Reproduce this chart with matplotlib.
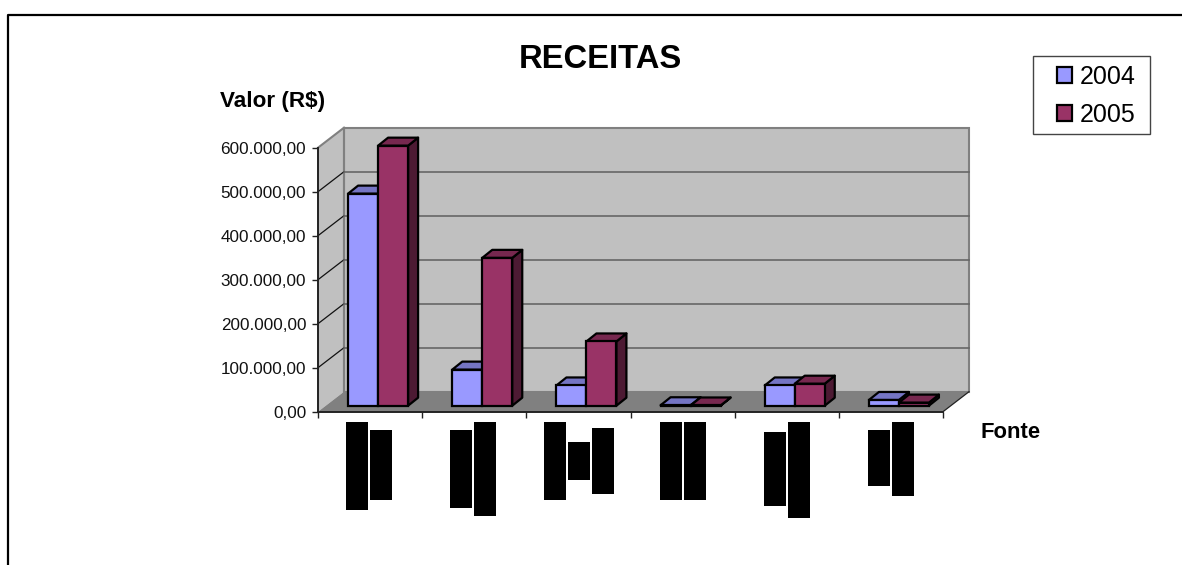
import matplotlib
matplotlib.use("Agg")
import matplotlib.pyplot as plt
from matplotlib.patches import Patch, Polygon, Rectangle

plt.rcParams['font.family'] = ['Liberation Sans', 'DejaVu Sans']

# DATA ---------------------------------------------------------------------
years = ['2004', '2005']
values_2004 = [482000, 82000, 46000, 1000, 46000, 13000]
values_2005 = [591000, 336000, 146000, 500, 50000, 7000]
y_ticks = [0, 100000, 200000, 300000, 400000, 500000, 600000]

# the category names are blacked out in the source, these are the blocks (top, bottom in px)
hidden_labels = [
    [(422, 510), (430, 500)],
    [(430, 508), (422, 516)],
    [(422, 500), (442, 480), (428, 494)],
    [(422, 500), (422, 500)],
    [(432, 506), (422, 518)],
    [(430, 486), (422, 496)],
]
hidden_left = [346, 450, 544, 660, 764, 868]

# LAYOUT -------------------------------------------------------------------
W, H = 1182, 565
LEFT, RIGHT, BASE, TOP = 318, 943, 411.7, 147.7
x_unit = (RIGHT - LEFT) / 6          # px for one category
y_unit = (BASE - TOP) / 600000       # px for one R$


def dx(px):
    return px / x_unit


def dy(px):
    return px / y_unit


fig = plt.figure(figsize=(W / 100, H / 100), dpi=100)
ax = fig.add_axes([LEFT / W, 1 - BASE / H, (RIGHT - LEFT) / W, (BASE - TOP) / H])
ax.set_xlim(0, 6)
ax.set_ylim(0, 600000)
ax.patch.set_visible(False)
for s in ['top', 'right']:
    ax.spines[s].set_visible(False)
for s in ['left', 'bottom']:
    ax.spines[s].set_linewidth(1.4)
    ax.spines[s].set_color('#222222')
    ax.spines[s].set_zorder(6)


def poly(pts, **kw):
    ax.add_patch(Polygon(pts, closed=True, clip_on=False, **kw))


# Walls and floor
wall_x, wall_y = dx(26), dy(20)
poly([(0, 0), (wall_x, wall_y), (wall_x, 600000 + wall_y), (0, 600000)],
     facecolor='#C0C0C0', edgecolor='none', zorder=1)
poly([(wall_x, wall_y), (6 + wall_x, wall_y), (6 + wall_x, 600000 + wall_y), (wall_x, 600000 + wall_y)],
     facecolor='#C0C0C0', edgecolor='#808080', linewidth=1.5, zorder=1)
poly([(0, 0), (6, 0), (6 + wall_x, wall_y), (wall_x, wall_y)],
     facecolor='#808080', edgecolor='none', zorder=2)
ax.plot([6, 6 + wall_x], [0, wall_y], color='#222222', lw=0.9, clip_on=False, zorder=3)
ax.plot([0, wall_x], [600000, 600000 + wall_y], color='#808080', lw=1.5, clip_on=False, zorder=3)
ax.plot([wall_x, wall_x], [wall_y, 600000 + wall_y], color='#808080', lw=1.5, clip_on=False, zorder=3)

for t in y_ticks[1:-1]:
    ax.plot([0, wall_x], [t, t + wall_y], color='#111111', lw=0.9, clip_on=False, zorder=3)
    ax.plot([wall_x, 6 + wall_x], [t + wall_y, t + wall_y], color='#666666', lw=1.2, clip_on=False, zorder=3)

# Bars
bar_w = dx(30)
shift_x, shift_y = dx(8), dy(6)
depth_x, depth_y = dx(10), dy(8)
series = [
    (values_2004, '#9999FF', '#7575C4', '#5A5A99', -1),
    (values_2005, '#993366', '#77284F', '#4D1A33', 0),
]
z = 4
for i in range(6):
    for vals, front, top_c, side_c, off in series:
        v = vals[i]
        x0 = i + 0.5 + shift_x + off * bar_w
        x1 = x0 + bar_w
        y0 = shift_y
        y1 = y0 + v
        poly([(x1, y0), (x1 + depth_x, y0 + depth_y), (x1 + depth_x, y1 + depth_y), (x1, y1)],
             facecolor=side_c, edgecolor='black', linewidth=1.6, joinstyle='round', zorder=z)
        poly([(x0, y1), (x1, y1), (x1 + depth_x, y1 + depth_y), (x0 + depth_x, y1 + depth_y)],
             facecolor=top_c, edgecolor='black', linewidth=1.6, joinstyle='round', zorder=z)
        ax.bar(x0, v, width=bar_w, bottom=y0, align='edge', color=front,
               edgecolor='black', linewidth=1.6, clip_on=False, zorder=z + 0.5)
        z += 0.01

# Axes ticks
ax.set_yticks(y_ticks)
ax.set_yticklabels([f"{t:,.2f}".replace(',', 'X').replace('.', ',').replace('X', '.') for t in y_ticks],
                   fontsize=12.3, color='#111111')
ax.set_xticks(range(7))
ax.set_xticklabels([])
ax.tick_params(axis='y', length=4.5, width=1, color='#222222', pad=4)
ax.tick_params(axis='x', length=4.5, width=1, color='#222222')

# Blacked out category labels
for left, blocks in zip(hidden_left, hidden_labels):
    for j, (top, bottom) in enumerate(blocks):
        fig.add_artist(Rectangle((left + j * 24, H - bottom), 22, bottom - top,
                                 transform=None, facecolor='black', edgecolor='none'))

# Frame of the chart area, only top and left are in the picture
fig.add_artist(plt.Line2D([8 / W, 8 / W, 1], [0, 1 - 14.5 / H, 1 - 14.5 / H], color='black', lw=1.6))

# Texts
fig.text(600 / W, 1 - 59 / H, 'RECEITAS', fontsize=23.6, fontweight='bold', ha='center', va='center')
fig.text(220 / W, 1 - 101 / H, 'Valor (R$)', fontsize=16.2, fontweight='bold', ha='left', va='center')
fig.text(980 / W, 1 - 433 / H, 'Fonte', fontsize=15.8, fontweight='bold', ha='left', va='center')

# Legend, box drawn apart because its padding is not even
fig.add_artist(Rectangle((1033, H - 134), 117, 78, transform=None, facecolor='white',
                         edgecolor='#444444', linewidth=1))
handles = [Patch(facecolor=c, edgecolor='black', linewidth=1.6) for c in ['#9999FF', '#993366']]
leg = fig.legend(handles, years, loc='upper left', bbox_to_anchor=(1057 / W, 1 - 65 / H),
                 fontsize=18, frameon=False, handlelength=0.6, handleheight=0.6, handletextpad=0.32,
                 labelspacing=0.56, borderpad=0, borderaxespad=0)
leg.set_zorder(5)

fig.savefig('out.png', dpi=100)
